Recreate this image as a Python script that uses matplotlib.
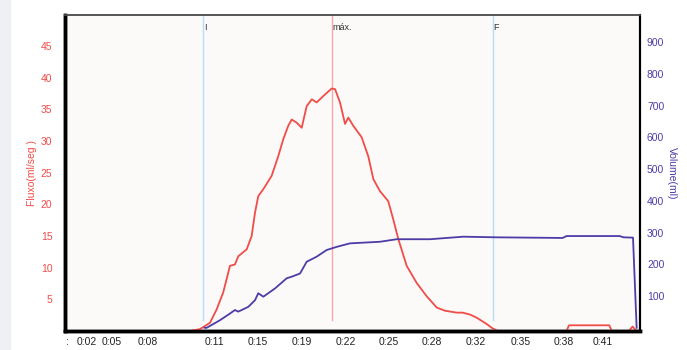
import matplotlib
matplotlib.use("Agg")
import matplotlib.pyplot as plt

# fluxo (ml/seg) vs tempo (s)
flow_t = [-0.5, 9.2, 9.95, 10.72, 11.23, 11.74, 12.0, 12.26, 12.64, 12.90, 13.55, 13.93,
          14.19, 14.44, 14.83, 15.47, 15.98, 16.37, 16.75, 17.02, 17.40, 17.79, 18.17,
          18.57, 18.94, 19.45, 20.10, 20.36, 20.74, 21.13, 21.38, 21.77, 22.41, 22.92,
          23.31, 23.82, 24.46, 24.85, 25.24, 25.88, 26.65, 27.42, 28.20, 28.84, 29.74,
          30.2, 30.76, 31.28, 32.05, 32.44, 32.9, 38.2, 38.4, 41.5, 41.7, 43.0, 43.3, 43.6]
flow_v = [0, 0, 0.3, 1.3, 3.4, 6.1, 8.2, 10.3, 10.5, 11.8, 12.9, 15.0,
          18.7, 21.3, 22.4, 24.5, 27.6, 30.3, 32.4, 33.4, 32.9, 32.1, 35.5,
          36.6, 36.1, 37.1, 38.3, 38.2, 36.1, 32.7, 33.7, 32.4, 30.6, 27.6,
          24.0, 22.1, 20.5, 17.6, 14.5, 10.3, 7.6, 5.5, 3.7, 3.2, 2.9,
          2.9, 2.6, 2.1, 1.1, 0.5, 0, 0, 0.9, 0.9, 0, 0, 0.7, 0]

# volume (ml) vs tempo (s)
vol_t = [10.3, 10.46, 11.49, 12.26, 12.64, 12.90, 13.67, 14.19, 14.44, 14.83, 15.73,
         16.63, 17.02, 17.66, 18.17, 18.94, 19.71, 20.49, 21.51, 23.82, 25.11, 27.68,
         30.25, 32.82, 37.9, 38.2, 42.3, 42.6, 43.33, 43.61]
vol_v = [0, 0, 24, 45, 56, 51, 66, 87, 109, 98, 124,
         156, 161, 171, 208, 224, 245, 255, 266, 271, 279, 279,
         287, 285, 283, 289, 289, 285, 284, 0]

tick_pos = [-0.3, 1.23, 3.16, 5.9, 11.07, 14.42, 17.81, 21.2, 24.5, 27.8, 31.2, 34.7, 38.0, 41.0]
tick_lab = [":", "0:02", "0:05", "0:08", "0:11", "0:15", "0:19", "0:22", "0:25", "0:28",
            "0:32", "0:35", "0:38", "0:41"]

marks_t = [10.18, 20.12, 32.54]
marks_lab = ["I", "máx.", "F"]
marks_col = ["#b3ddf0", "#f5aaa5", "#b3ddf0"]

red = "#f04c48"
blue = "#4d3ca8"

plt.rcParams["font.family"] = ["Liberation Sans", "DejaVu Sans"]

fig = plt.figure(figsize=(6.87, 3.5), dpi=100)
fig.patch.set_facecolor("white")
fig.patches.append(plt.Rectangle((0, 0), 0.014, 1, transform=fig.transFigure,
                                 color="#eef0f3", zorder=0))
ax = fig.add_axes([0.0946, 0.0543, 0.837, 0.9027])
ax.set_facecolor("#fcf9f9")

for t, lab, c in zip(marks_t, marks_lab, marks_col):
    ax.axvline(t, ymin=0.035, ymax=1, color=c, lw=1.0, zorder=1)
    ax.text(t + 0.05, 0.975, lab, transform=ax.get_xaxis_transform(),
            fontsize=6.5, va="top", ha="left", color="#333333")

ax.plot(flow_t, flow_v, color=red, lw=1.3, zorder=3)
ax.set_xlim(-0.46, 43.87)
ax.set_ylim(0, 49.9)
ax.set_yticks(range(5, 50, 5))
ax.tick_params(axis="y", colors=red, length=0, labelsize=7.5, pad=9)
ax.set_xticks(tick_pos)
ax.set_xticklabels(tick_lab)
ax.tick_params(axis="x", length=0, labelsize=7.5, pad=4, colors="#222222")
ax.set_ylabel("Fluxo(ml/seg )", color=red, fontsize=7.5, labelpad=3)

ax2 = ax.twinx()
ax2.plot(vol_t, vol_v, color=blue, lw=1.3, zorder=3)
ax2.set_ylim(-10, 985)
ax2.set_yticks(range(100, 1000, 100))
ax2.tick_params(axis="y", colors=blue, length=0, labelsize=7.5, pad=5)
ax2.set_ylabel("Volume(ml)", color=blue, fontsize=7.5, rotation=-90, labelpad=9)

for a in (ax, ax2):
    a.spines["left"].set_linewidth(2.5)
    a.spines["bottom"].set_linewidth(2.5)
    a.spines["right"].set_linewidth(1.5)
    a.spines["top"].set_linewidth(1.2)
    a.spines["top"].set_color("#555555")

fig.savefig("out.png", dpi=100)
